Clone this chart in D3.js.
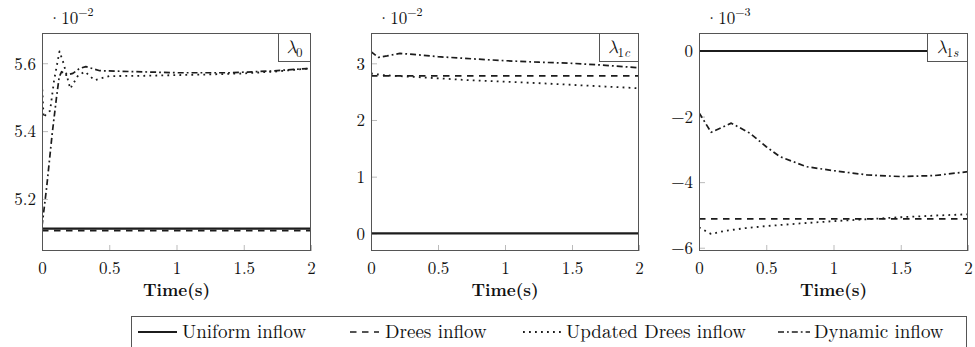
<!DOCTYPE html>
<html>
<head>
<meta charset="utf-8">
<script src="https://cdn.jsdelivr.net/npm/d3@7"></script>
<style>
  html, body { margin: 0; padding: 0; background: #fff; }
  svg { display: block; }
</style>
</head>
<body>
<svg id="chart" width="975" height="347"></svg>
<script>
// ---- data -------------------------------------------------------------
const seriesNames = ["Uniform inflow", "Drees inflow", "Updated Drees inflow", "Dynamic inflow"];
const timeTicks = [0, 0.5, 1, 1.5, 2];

// lambda_0, values in units of 1e-2
const l0Ticks = [5.2, 5.4, 5.6];
const l0UniformT = [0, 2];
const l0UniformV = [5.113, 5.113];
const l0DreesT = [0, 2];
const l0DreesV = [5.107, 5.107];
const l0UpdatedT = [0, 0.012, 0.03, 0.06, 0.09, 0.13, 0.16, 0.21, 0.27, 0.32, 0.39, 0.5, 0.75, 1, 1.25, 1.5, 1.75, 2];
const l0UpdatedV = [5.54, 5.44, 5.45, 5.46, 5.55, 5.635, 5.6, 5.525, 5.565, 5.575, 5.55, 5.562, 5.563, 5.565, 5.567, 5.57, 5.576, 5.585];
const l0DynamicT = [0, 0.035, 0.076, 0.108, 0.128, 0.146, 0.18, 0.23, 0.28, 0.326, 0.43, 0.7, 1, 1.4, 1.7, 2];
const l0DynamicV = [5.12, 5.236, 5.393, 5.50, 5.56, 5.575, 5.565, 5.57, 5.585, 5.59, 5.578, 5.575, 5.572, 5.572, 5.577, 5.585];

// lambda_1c, values in units of 1e-2
const l1cTicks = [0, 1, 2, 3];
const l1cUniformT = [0, 2];
const l1cUniformV = [0, 0];
const l1cDreesT = [0, 2];
const l1cDreesV = [2.78, 2.78];
const l1cUpdatedT = [0, 0.1, 0.25, 0.5, 0.75, 1, 1.25, 1.5, 1.75, 2];
const l1cUpdatedV = [2.82, 2.79, 2.77, 2.735, 2.70, 2.675, 2.65, 2.62, 2.59, 2.56];
const l1cDynamicT = [0, 0.055, 0.12, 0.216, 0.35, 0.5, 0.75, 1, 1.25, 1.5, 1.75, 2];
const l1cDynamicV = [3.205, 3.105, 3.13, 3.176, 3.15, 3.117, 3.08, 3.046, 3.02, 3.0, 2.965, 2.92];

// lambda_1s, values in units of 1e-3
const l1sTicks = [-6, -4, -2, 0];
const l1sUniformT = [0, 2];
const l1sUniformV = [0, 0];
const l1sDreesT = [0, 2];
const l1sDreesV = [-5.12, -5.12];
const l1sUpdatedT = [0, 0.09, 0.2, 0.35, 0.5, 0.75, 1, 1.25, 1.5, 1.75, 2];
const l1sUpdatedV = [-5.38, -5.58, -5.48, -5.40, -5.34, -5.26, -5.19, -5.13, -5.07, -5.02, -4.98];
const l1sDynamicT = [0, 0.09, 0.24, 0.38, 0.5, 0.6, 0.8, 1, 1.25, 1.5, 1.75, 2];
const l1sDynamicV = [-1.88, -2.48, -2.2, -2.51, -2.92, -3.22, -3.53, -3.65, -3.78, -3.83, -3.80, -3.68];

// ---- styles -----------------------------------------------------------
const lineStyles = [
  { width: 2.2, dash: null },
  { width: 1.7, dash: "6.5,5.5" },
  { width: 1.8, dash: "1.8,4.2" },
  { width: 1.7, dash: "6,3,1.8,3" }
];
const ink = "#1c1c1c";
const frame = "#555";
const serifFont = '"Latin Modern Roman", "CMU Serif", "Liberation Serif", serif';
const mathFont = '"Latin Modern Math", "Latin Modern Roman", "Liberation Serif", serif';

const panels = [
  {
    left: 42, right: 311, domain: [5.047, 5.689], ticks: l0Ticks, fmt: d => d.toFixed(1),
    exp: "\u22122", sym: "0", symItalic: false, boxW: 33,
    series: [[l0UniformT, l0UniformV], [l0DreesT, l0DreesV], [l0UpdatedT, l0UpdatedV], [l0DynamicT, l0DynamicV]]
  },
  {
    left: 371, right: 639, domain: [-0.312, 3.535], ticks: l1cTicks, fmt: d => String(d),
    exp: "\u22122", sym: "1c", symItalic: true, boxW: 40,
    series: [[l1cUniformT, l1cUniformV], [l1cDreesT, l1cDreesV], [l1cUpdatedT, l1cUpdatedV], [l1cDynamicT, l1cDynamicV]]
  },
  {
    left: 699, right: 968, domain: [-6.1, 0.549], ticks: l1sTicks, fmt: d => String(d).replace("-", "\u2212"),
    exp: "\u22123", sym: "1s", symItalic: true, boxW: 41,
    series: [[l1sUniformT, l1sUniformV], [l1sDreesT, l1sDreesV], [l1sUpdatedT, l1sUpdatedV], [l1sDynamicT, l1sDynamicV]]
  }
];

const plotTop = 33, plotBottom = 251;
const svg = d3.select("#chart");

panels.forEach((p, pi) => {
  const x = d3.scaleLinear().domain([0, 2]).range([p.left, p.right]);
  const y = d3.scaleLinear().domain(p.domain).range([plotBottom, plotTop]);
  const g = svg.append("g");

  const clipId = "clip" + pi;
  g.append("clipPath").attr("id", clipId)
    .append("rect").attr("x", p.left).attr("y", plotTop)
    .attr("width", p.right - p.left).attr("height", plotBottom - plotTop);

  // inward ticks
  const xAxis = d3.axisBottom(x).tickValues(timeTicks).tickSize(-6).tickFormat(d3.format("~g"));
  const gx = g.append("g").attr("transform", `translate(0,${plotBottom})`).call(xAxis);
  gx.select(".domain").remove();
  gx.selectAll(".tick line").attr("stroke", "#bbb").attr("stroke-width", 1);
  gx.selectAll(".tick text").attr("y", 11).attr("dy", "0.71em")
    .style("font-family", serifFont).style("font-size", "17px").attr("fill", "#111");

  const yAxis = d3.axisLeft(y).tickValues(p.ticks).tickSize(-6).tickFormat(p.fmt);
  const gy = g.append("g").attr("transform", `translate(${p.left},0)`).call(yAxis);
  gy.select(".domain").remove();
  gy.selectAll(".tick line").attr("stroke", "#bbb").attr("stroke-width", 1);
  gy.selectAll(".tick text").attr("x", -6).attr("dy", "0.34em")
    .style("font-family", serifFont).style("font-size", "17px").attr("fill", "#111");

  // series
  const line = d3.line().x(d => x(d[0])).y(d => y(d[1]));
  const plot = g.append("g").attr("clip-path", `url(#${clipId})`);
  p.series.forEach(([ts, vs], si) => {
    const pts = ts.map((t, i) => [t, vs[i]]);
    const st = lineStyles[si];
    plot.append("path").datum(pts)
      .attr("d", line)
      .attr("fill", "none")
      .attr("stroke", ink)
      .attr("stroke-width", st.width)
      .attr("stroke-linejoin", "round")
      .attr("stroke-dasharray", st.dash);
  });

  // frame
  g.append("rect").attr("x", p.left + 0.5).attr("y", plotTop + 0.5)
    .attr("width", p.right - p.left - 1).attr("height", plotBottom - plotTop - 1)
    .attr("fill", "none").attr("stroke", frame).attr("stroke-width", 1);

  // exponent label
  const ex = g.append("text").attr("x", p.left + 6).attr("y", 24)
    .style("font-family", serifFont).style("font-size", "17px").attr("fill", "#111");
  ex.append("tspan").text("\u00b710");
  ex.append("tspan").attr("dy", -8).style("font-size", "12px").text(p.exp);

  // variable label box
  const bx = p.right - p.boxW;
  g.append("rect").attr("x", bx + 0.5).attr("y", plotTop + 0.5)
    .attr("width", p.boxW - 1).attr("height", 28)
    .attr("fill", "#fff").attr("stroke", frame).attr("stroke-width", 1);
  const lt = g.append("text").attr("x", bx + p.boxW / 2).attr("y", plotTop + 20)
    .attr("text-anchor", "middle").attr("fill", "#111")
    .style("font-family", mathFont).style("font-size", "18px");
  lt.append("tspan").style("font-style", "italic").text("\u03bb");
  if (p.symItalic) {
    lt.append("tspan").attr("dy", 4).style("font-size", "13px").style("font-family", serifFont).text(p.sym[0]);
    lt.append("tspan").style("font-size", "13px").style("font-style", "italic").style("font-family", serifFont).text(p.sym.slice(1));
  } else {
    lt.append("tspan").attr("dy", 4).style("font-size", "13px").style("font-family", serifFont).text(p.sym);
  }

  // axis title
  g.append("text").attr("x", (p.left + p.right) / 2).attr("y", 296)
    .attr("text-anchor", "middle").attr("fill", "#111")
    .style("font-family", serifFont).style("font-size", "17px").style("font-weight", "bold")
    .text("Time(s)");
});

// ---- legend -----------------------------------------------------------
const legendItems = [
  { x0: 138, x1: 177, tx: 182 },
  { x0: 350, x1: 379, tx: 385 },
  { x0: 523, x1: 562, tx: 566 },
  { x0: 778, x1: 810, tx: 814 }
];
const lg = svg.append("g");
lg.append("rect").attr("x", 131.5).attr("y", 316.5).attr("width", 835).attr("height", 60)
  .attr("fill", "#fff").attr("stroke", frame).attr("stroke-width", 1);
seriesNames.forEach((name, i) => {
  const it = legendItems[i];
  const st = lineStyles[i];
  lg.append("line").attr("x1", it.x0).attr("x2", it.x1).attr("y1", 332).attr("y2", 332)
    .attr("stroke", ink).attr("stroke-width", st.width).attr("stroke-dasharray", st.dash);
  lg.append("text").attr("x", it.tx).attr("y", 338).attr("fill", "#111")
    .style("font-family", serifFont).style("font-size", "19px")
    .text(name);
});
</script>
</body>
</html>
